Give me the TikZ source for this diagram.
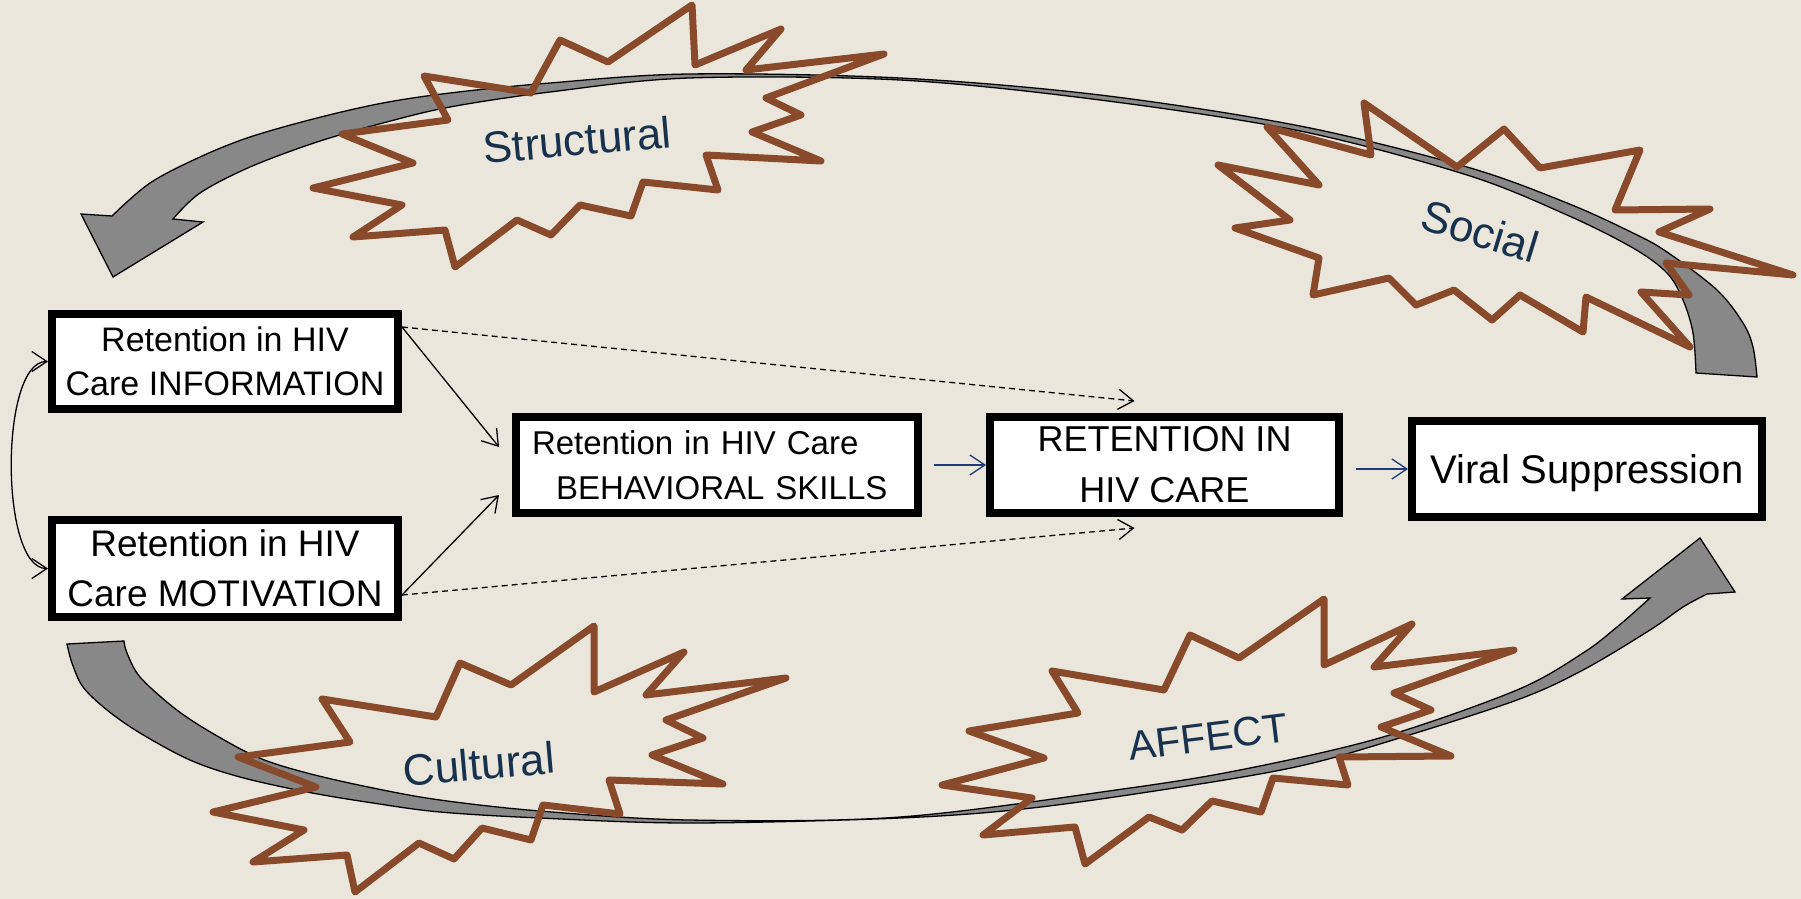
\documentclass[tikz,border=0pt]{standalone}
\usepackage{fontspec}
\setmainfont{Liberation Sans}
\usetikzlibrary{arrows.meta}
\definecolor{bgcol}{RGB}{234,230,220}
\definecolor{burstbrown}{RGB}{137,74,44}
\definecolor{labelnavy}{RGB}{24,50,77}
\definecolor{arrowgray}{RGB}{136,136,136}
\definecolor{connnavy}{RGB}{31,58,120}
\tikzset{
  box/.style={draw=black, line width=8pt, fill=white, inner sep=0pt},
  burst/.style={draw=burstbrown, line width=7pt, line join=round},
  blabel/.style={text=labelnavy, font=\fontsize{44}{50}\selectfont, inner sep=0pt},
  bigarrow/.style={fill=arrowgray, draw=black, line width=1.3pt, line join=miter},
  conn/.style={line width=1.3pt, -{Straight Barb[length=15pt,width=20pt]}},
  dashconn/.style={conn, dash pattern=on 6pt off 4pt},
  navyconn/.style={conn, draw=connnavy},
}
\begin{document}
\begin{tikzpicture}[x=1pt,y=-1pt]
\useasboundingbox (0,0) rectangle (1801,899);
\fill[bgcol] (0,0) rectangle (1801,899);

% top curved arrow (tail at right, head at left)
\filldraw[bigarrow] plot[smooth,tension=0.55] coordinates {(1757,377) (1753,347) (1743,323) (1717,290) (1667,252) (1633,233) (1567,203) (1467,167) (1300,126) (1100,95) (900,78) (689,74) (550,83) (450,93) (383,103) (317,118) (250,137) (200,157) (150,183) (112,216)}
  -- (81,214) -- (113,277) -- (203,222)
  -- plot[smooth,tension=0.55] coordinates {(173,219) (200,193) (250,167) (317,142) (383,123) (450,107) (550,92) (689,78) (900,80) (1100,100) (1300,131) (1467,175) (1567,215) (1633,248) (1667,273) (1683,300) (1693,333) (1696,373)} -- cycle;

% bottom curved arrow (tail at left, head at right)
\filldraw[bigarrow] plot[smooth,tension=0.55] coordinates {(67,644) (72,663) (83,687) (107,710) (140,733) (190,760) (240,777) (307,792) (373,803) (440,812) (540,818) (689,823) (900,818) (1032,808) (1187,786) (1300,766) (1393,740) (1517,700) (1583,670) (1650,630) (1683,607) (1707,594)}
  -- (1735,592) -- (1700,538) -- (1622,599)
  -- plot[smooth,tension=0.55] coordinates {(1650,598) (1640,607) (1617,627) (1583,653) (1517,690) (1383,737) (1250,768) (1130,788) (900,817) (689,820) (540,811) (440,800) (373,788) (307,773) (257,757) (207,730) (173,707) (140,677) (127,653) (124,641)} -- cycle;

% starbursts
\draw[burst] (692,5) -- (695,65) -- (781,29) -- (746,70) -- (884,54) -- (766,98) -- (801,115) -- (752,132) -- (821,161) -- (706,155) -- (718,190) -- (643,182) -- (631,216) -- (580,205) -- (551,235) -- (517,220) -- (455,267) -- (445,230) -- (353,237) -- (402,205) -- (313,188) -- (413,163) -- (342,134) -- (448,120) -- (424,76) -- (531,93) -- (560,40) -- (608,62) -- cycle;
\draw[burst] (1364,103) -- (1457,167) -- (1504,129) -- (1540,168) -- (1640,150) -- (1615,210) -- (1710,209) -- (1659,232) -- (1793,275) -- (1666,263) -- (1689,295) -- (1641,292) -- (1690,347) -- (1586,297) -- (1583,332) -- (1520,295) -- (1492,320) -- (1454,290) -- (1416,305) -- (1389,278) -- (1313,295) -- (1319,258) -- (1235,228) -- (1290,220) -- (1218,165) -- (1319,185) -- (1267,127) -- (1371,155) -- cycle;
\draw[burst] (594,626) -- (594,692) -- (684,652) -- (646,695) -- (786,678) -- (666,720) -- (703,738) -- (652,755) -- (723,784) -- (609,780) -- (620,814) -- (543,805) -- (531,840) -- (482,828) -- (454,859) -- (419,843) -- (355,892) -- (347,855) -- (253,862) -- (304,830) -- (213,812) -- (316,787) -- (238,757) -- (350,742) -- (322,699) -- (436,717) -- (460,663) -- (511,685) -- cycle;
\draw[burst] (1324,599) -- (1324,665) -- (1412,624) -- (1374,667) -- (1514,650) -- (1394,693) -- (1431,710) -- (1381,727) -- (1451,756) -- (1339,757) -- (1348,785) -- (1273,778) -- (1261,812) -- (1212,801) -- (1182,830) -- (1149,817) -- (1085,864) -- (1075,827) -- (983,835) -- (1032,798) -- (942,785) -- (1044,758) -- (969,731) -- (1078,713) -- (1052,671) -- (1164,690) -- (1190,635) -- (1239,658) -- cycle;

% burst labels
\node[blabel, rotate=5] (lstruct) at (577,140) {Structural};
\node[blabel, rotate=-17] (lsocial) at (1480,231) {Social};
\node[blabel, rotate=5] (lcult) at (479,764) {Cultural};
\node[blabel, rotate=7, font=\fontsize{41}{48}\selectfont] (laffect) at (1208,737) {AFFECT};

% boxes
\node[box, align=center, minimum width=346pt, minimum height=95pt, font=\fontsize{34}{44}\selectfont] (info) at (225,361.5) {Retention in HIV\\Care INFORMATION};
\node[box, align=center, minimum width=346pt, minimum height=97pt, font=\fontsize{37}{50}\selectfont] (mot) at (225,568.5) {Retention in HIV\\Care MOTIVATION};
\node[box, align=left, text width=370pt, minimum width=402pt, minimum height=96pt, font=\fontsize{33}{45}\selectfont] (beh) at (717,465) {Retention in HIV Care\\\hspace*{24pt}BEHAVIORAL SKILLS};
\node[box, align=center, minimum width=349pt, minimum height=96pt, font=\fontsize{36}{51}\selectfont] (ret) at (1164.5,465) {RETENTION IN\\HIV CARE};
\node[box, minimum width=350pt, minimum height=96pt, text height=29pt, text depth=0pt, font=\fontsize{40}{48}\selectfont] (viral) at (1587,469) {Viral Suppression};

% connectors
\draw[conn] ([yshift=-17pt]info.north east) -- ([xshift=-13pt,yshift=18pt]beh.west);
\draw[conn] ([yshift=-26.5pt]mot.east) -- ([xshift=-13pt,yshift=-30pt]beh.west);
\draw[dashconn] ([yshift=-17pt]info.north east) -- ([xshift=-30pt,yshift=12pt]ret.north);
\draw[dashconn] ([yshift=-26.5pt]mot.east) -- ([xshift=-30pt,yshift=-11pt]ret.south);
\draw[navyconn] ([xshift=12pt]beh.east) -- (ret.west);
\draw[navyconn] ([xshift=13pt,yshift=-4pt]ret.east) -- (viral.west);
\draw[line width=1.3pt, {Straight Barb[length=15pt,width=20pt]}-{Straight Barb[length=15pt,width=20pt]}] (info.west) to[out=180,in=180,looseness=0.6] (mot.west);
\end{tikzpicture}
\end{document}
